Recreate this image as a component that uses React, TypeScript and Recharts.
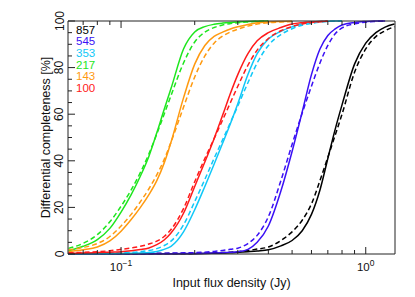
import { Line, LineChart, XAxis, YAxis } from "recharts";

// input flux density grid (Jy)
const flux = [
  0.061, 0.07, 0.08, 0.09, 0.1, 0.11, 0.12, 0.13, 0.14, 0.15, 0.16, 0.18, 0.2,
  0.22, 0.24, 0.26, 0.28, 0.3, 0.33, 0.36, 0.4, 0.45, 0.5, 0.55, 0.6, 0.65, 0.7,
  0.75, 0.8, 0.9, 1.0, 1.1, 1.2, 1.31,
];

// differential completeness [%], s = solid, d = dashed
const s857 = [
  0.1, 0.1, 0.1, 0.1, 0.1, 0.1, 0.1, 0.1, 0.1, 0.1, 0.1, 0.1, 0.15, 0.2, 0.3,
  0.4, 0.5, 0.7, 1.0, 1.3, 1.8, 3.5, 5.8, 10, 17, 27.5, 41, 53.5, 64, 81.5,
  90.5, 95, 97.4, 98.7,
];
const d857 = [
  0.2, 0.2, 0.2, 0.2, 0.2, 0.2, 0.2, 0.2, 0.2, 0.2, 0.2, 0.2, 0.3, 0.4, 0.5,
  0.6, 0.8, 1.0, 1.5, 2.1, 3.0, 5.8, 9.5, 14.5, 21.5, 31.5, 41.5, 51, 60, 78,
  88, 93.3, 95.8, 97.6,
];
const s545 = [
  0.1, 0.1, 0.1, 0.1, 0.1, 0.1, 0.1, 0.1, 0.1, 0.1, 0.15, 0.2, 0.2, 0.3, 0.4,
  0.5, 0.7, 1.0, 2.0, 5.0, 12, 27, 44, 61, 77, 88, 93.8, 96.6, 98.3, 99.4, 99.8,
  100, 100, null,
];
const d545 = [
  0.2, 0.2, 0.2, 0.2, 0.2, 0.2, 0.2, 0.25, 0.3, 0.35, 0.4, 0.5, 0.6, 0.8, 1.1,
  1.5, 2.0, 2.5, 4.5, 8, 16, 31.5, 47, 60.5, 72, 82, 89.5, 94.5, 97, 98.8, 99.5,
  99.8, 100, null,
];
const s353 = [
  0.1, 0.1, 0.1, 0.15, 0.2, 0.3, 0.4, 0.6, 1.1, 2.0, 3.3, 9.5, 19, 29, 38.5,
  47.5, 56, 64.5, 77, 86, 92.3, 95.6, 97.5, 98.8, 99.5, 99.8, 99.9, 100, 100,
  null, null, null, null, null,
];
const d353 = [
  0.2, 0.2, 0.3, 0.4, 0.5, 0.7, 1.0, 1.5, 2.3, 3.6, 5.5, 12.5, 22.5, 32, 41, 49,
  56.5, 63.5, 73.5, 82, 89.5, 94.2, 96.7, 98.2, 99, 99.5, 99.8, 99.9, 100, null,
  null, null, null, null,
];
const s217 = [
  1.4, 3.3, 6.2, 11, 18, 25.5, 33.5, 42, 52, 62, 71, 88, 95.3, 97.6, 98.6, 99.1,
  99.4, 99.6, 99.8, 99.9, 100, null, null, null, null, null, null, null, null,
  null, null, null, null, null,
];
const d217 = [
  2.4, 4.6, 8.3, 13.8, 20.5, 27.5, 35, 43, 51.5, 60, 68, 82, 91, 95.2, 97.2,
  98.3, 98.9, 99.3, 99.6, 99.8, 99.9, null, null, null, null, null, null, null,
  null, null, null, null, null, null,
];
const s143 = [
  1.0, 1.8, 3.0, 5.6, 9.8, 14.8, 20, 25.5, 31.5, 39, 48, 67, 81.5, 89.5, 93.4,
  95.2, 96.6, 97.5, 98.5, 99.2, 99.6, 99.8, 99.9, null, null, null, null, null,
  null, null, null, null, null, null,
];
const d143 = [
  1.8, 2.8, 4.5, 7.5, 12, 17, 22.5, 28, 34, 40.5, 48, 63, 76, 85, 90.5, 93.5,
  95.3, 96.5, 97.8, 98.7, 99.3, 99.6, 99.8, null, null, null, null, null, null,
  null, null, null, null, null,
];
const s100 = [
  0.3, 0.4, 0.6, 0.8, 1.0, 1.4, 1.9, 2.6, 4.0, 6.0, 9.0, 17.5, 29, 39.5, 49.5,
  59.5, 69, 77, 86, 91.5, 95, 97.2, 98.7, 99.3, 99.6, 99.8, 99.9, null, null,
  null, null, null, null, null,
];
const d100 = [
  0.5, 0.7, 1.0, 1.4, 2.0, 2.6, 3.3, 4.3, 5.5, 7.5, 10.5, 19.5, 31, 41, 49.5,
  57.5, 65, 72, 81, 87.5, 92.5, 95.8, 97.6, 98.7, 99.3, 99.7, 99.9, null, null,
  null, null, null, null, null,
];

const bands = ["857", "545", "353", "217", "143", "100"];
const colors = ["#000000", "#3a10f5", "#10c8f8", "#1ee61e", "#ff9a10", "#ff1a1a"];
const solid = [s857, s545, s353, s217, s143, s100];
const dashed = [d857, d545, d353, d217, d143, d100];

const xTicks = [0.07, 0.08, 0.09, 0.1, 0.2, 0.3, 0.4, 0.5, 0.6, 0.7, 0.8, 0.9, 1];
const xMajor = [0.1, 1];
const xLabels = ["\u22121", "0"];
const yTicks = [
  0, 5, 10, 15, 20, 25, 30, 35, 40, 45, 50, 55, 60, 65, 70, 75, 80, 85, 90, 95, 100,
];

const rows = flux.map((f, i) => {
  const row: Record<string, number | null> = { flux: f };
  bands.forEach((b, k) => {
    row["s" + b] = solid[k][i];
    row["d" + b] = dashed[k][i];
  });
  return row;
});

const AXIS = "#222";
const FONT = "'Liberation Sans', Arial, sans-serif";

function BottomTick(props: any) {
  const { x, y, payload } = props;
  const m = xMajor.indexOf(payload.value);
  return (
    <g>
      <line x1={x} x2={x} y1={y} y2={y - (m >= 0 ? 7 : 4)} stroke={AXIS} />
      {m >= 0 && (
        <text x={x} y={y + 17} textAnchor="middle" fontSize={11.5} fill="#111" fontFamily={FONT}>
          10
          <tspan dy={-5} fontSize={8.5}>
            {xLabels[m]}
          </tspan>
        </text>
      )}
    </g>
  );
}

function TopTick(props: any) {
  const { x, y, payload } = props;
  const major = xMajor.indexOf(payload.value) >= 0;
  return <line x1={x} x2={x} y1={y} y2={y + (major ? 7 : 4)} stroke={AXIS} />;
}

function LeftTick(props: any) {
  const { x, y, payload } = props;
  const major = payload.value % 20 === 0;
  const tx = x - 4.5;
  return (
    <g>
      <line x1={x} x2={x + (major ? 7 : 4)} y1={y} y2={y} stroke={AXIS} />
      {major && (
        <text
          x={tx}
          y={y}
          transform={`rotate(-90 ${tx} ${y})`}
          textAnchor="middle"
          fontSize={12}
          fill="#111"
          fontFamily={FONT}
        >
          {payload.value}
        </text>
      )}
    </g>
  );
}

function RightTick(props: any) {
  const { x, y, payload } = props;
  const major = payload.value % 20 === 0;
  return <line x1={x} x2={x - (major ? 7 : 4)} y1={y} y2={y} stroke={AXIS} />;
}

export default function App() {
  return (
    <div style={{ position: "absolute", left: 0, top: 0, width: 415, height: 297, background: "#fff" }}>
      <LineChart width={415} height={297} data={rows} margin={{ top: 0, right: 0, bottom: 0, left: 0 }}>
        <XAxis
          dataKey="flux"
          type="number"
          scale="log"
          domain={[0.0607, 1.317]}
          allowDataOverflow
          ticks={xTicks}
          interval={0}
          height={43}
          tickSize={0}
          tickMargin={0}
          tickLine={false}
          tick={BottomTick}
          axisLine={{ stroke: AXIS }}
          label={{
            value: "Input flux density (Jy)",
            position: "insideBottom",
            offset: 10,
            fill: "#111",
            fontSize: 12.5,
            fontFamily: FONT,
          }}
        />
        <XAxis
          xAxisId="top"
          orientation="top"
          dataKey="flux"
          type="number"
          scale="log"
          domain={[0.0607, 1.317]}
          allowDataOverflow
          ticks={xTicks}
          interval={0}
          height={21}
          tickSize={0}
          tickMargin={0}
          tickLine={false}
          tick={TopTick}
          axisLine={{ stroke: AXIS }}
        />
        <YAxis
          type="number"
          domain={[0, 100]}
          ticks={yTicks}
          interval={0}
          width={68}
          tickSize={0}
          tickMargin={0}
          tickLine={false}
          tick={LeftTick}
          axisLine={{ stroke: AXIS }}
          label={{
            value: "Differential completeness [%]",
            angle: -90,
            position: "insideLeft",
            offset: 46,
            fill: "#111",
            fontSize: 12.5,
            fontFamily: FONT,
            style: { textAnchor: "middle" },
          }}
        />
        <YAxis
          yAxisId="right"
          orientation="right"
          type="number"
          domain={[0, 100]}
          ticks={yTicks}
          interval={0}
          width={20}
          tickSize={0}
          tickMargin={0}
          tickLine={false}
          tick={RightTick}
          axisLine={{ stroke: AXIS }}
        />
        {bands.map((b, k) => [
          <Line
            key={"s" + b}
            dataKey={"s" + b}
            type="monotone"
            stroke={colors[k]}
            strokeWidth={1.5}
            dot={false}
            isAnimationActive={false}
          />,
          <Line
            key={"d" + b}
            dataKey={"d" + b}
            type="monotone"
            stroke={colors[k]}
            strokeWidth={1.5}
            strokeDasharray="5 3"
            dot={false}
            isAnimationActive={false}
          />,
        ])}
      </LineChart>
      <div
        style={{
          position: "absolute",
          left: 76,
          top: 24.5,
          fontFamily: FONT,
          fontSize: 11.5,
          lineHeight: "11.7px",
        }}
      >
        {bands.map((b, k) => (
          <div key={b} style={{ color: colors[k], height: 11.7 }}>
            {b}
          </div>
        ))}
      </div>
    </div>
  );
}
